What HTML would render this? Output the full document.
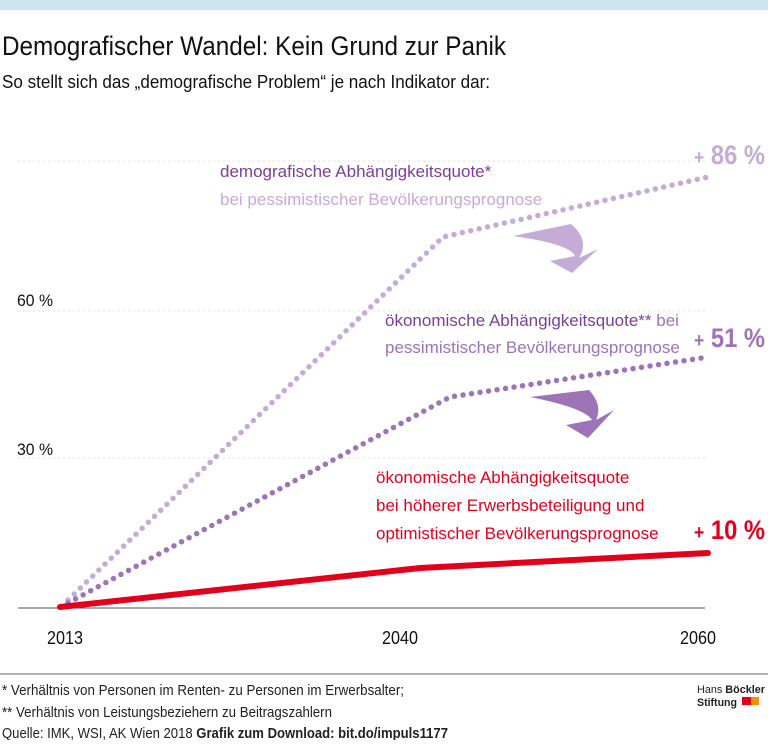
<!DOCTYPE html>
<html><head><meta charset="utf-8"><style>
body{margin:0;width:768px;height:740px;background:#fff;overflow:hidden}
svg text{font-family:"Liberation Sans Narrow","Liberation Sans",sans-serif}
</style></head><body>
<svg width="768" height="740" viewBox="0 0 768 740" xmlns="http://www.w3.org/2000/svg">
<rect x="0" y="0" width="768" height="10" fill="#cde3ee"/>
<text x="2" y="55" font-size="27" fill="#111" textLength="504" lengthAdjust="spacingAndGlyphs">Demografischer Wandel: Kein Grund zur Panik</text>
<text x="2" y="88" font-size="18" fill="#111" textLength="488" lengthAdjust="spacingAndGlyphs">So stellt sich das „demografische Problem“ je nach Indikator dar:</text>
<g stroke="#e6e2cc" stroke-width="1" stroke-dasharray="2,3">
<line x1="18" y1="161" x2="705" y2="161"/>
<line x1="18" y1="311" x2="705" y2="311"/>
<line x1="18" y1="458" x2="705" y2="458"/>
</g>
<line x1="18" y1="608" x2="705" y2="608" stroke="#555" stroke-width="1"/>
<text x="17" y="306" font-size="17" fill="#111" textLength="36" lengthAdjust="spacingAndGlyphs">60 %</text>
<text x="17" y="455" font-size="17" fill="#111" textLength="36" lengthAdjust="spacingAndGlyphs">30 %</text>
<text x="47" y="644" font-size="18" fill="#111" textLength="36" lengthAdjust="spacingAndGlyphs">2013</text>
<text x="382" y="644" font-size="18" fill="#111" textLength="36" lengthAdjust="spacingAndGlyphs">2040</text>
<text x="680" y="644" font-size="18" fill="#111" textLength="36" lengthAdjust="spacingAndGlyphs">2060</text>
<polyline points="68,600 443,237 708,177" fill="none" stroke="#c4acd6" stroke-width="5.5" stroke-linecap="round" stroke-dasharray="0,8.6"/>
<polyline points="68,603 450,397 708,357" fill="none" stroke="#9d74b6" stroke-width="5.5" stroke-linecap="round" stroke-dasharray="0,8.6"/>
<polyline points="60,607 420,568 708,553" fill="none" stroke="#e3001b" stroke-width="6" stroke-linecap="round"/>
<path d="M513,236 L571,224 Q590,240 579,258 L598,249 L572,273 L550,261 L575,256 Q570,244 513,236Z" fill="#c4acd6"/>
<path d="M530,397 L589,390 Q603,405 596,420 L614,410 L588,438 L566,425 L592,420 Q585,408 530,397Z" fill="#9d74b6"/>
<text x="220" y="177" font-size="17" fill="#7b3f98">demografische Abhängigkeitsquote*</text>
<text x="220" y="205" font-size="17" fill="#c4acd6">bei pessimistischer Bevölkerungsprognose</text>
<text x="385" y="326" font-size="17" fill="#7b3f98">ökonomische Abhängigkeitsquote** <tspan fill="#9d74b6">bei</tspan></text>
<text x="385" y="353" font-size="17" fill="#9d74b6">pessimistischer Bevölkerungsprognose</text>
<text x="376" y="483" font-size="17" fill="#e3001b">ökonomische Abhängigkeitsquote</text>
<text x="376" y="511" font-size="17" fill="#e3001b">bei höherer Erwerbsbeteiligung und</text>
<text x="376" y="539" font-size="17" fill="#e3001b">optimistischer Bevölkerungsprognose</text>
<text x="694" y="164" font-size="27" fill="#c4acd6" font-weight="bold" textLength="71" lengthAdjust="spacingAndGlyphs"><tspan font-size="20">+</tspan> 86 %</text>
<text x="694" y="347" font-size="27" fill="#9d74b6" font-weight="bold" textLength="71" lengthAdjust="spacingAndGlyphs"><tspan font-size="20">+</tspan> 51 %</text>
<text x="694" y="539" font-size="27" fill="#e3001b" font-weight="bold" textLength="71" lengthAdjust="spacingAndGlyphs"><tspan font-size="20">+</tspan> 10 %</text>
<line x1="0" y1="674" x2="768" y2="674" stroke="#666" stroke-width="1"/>
<text x="2" y="695" font-size="15" fill="#222" textLength="402" lengthAdjust="spacingAndGlyphs">* Verhältnis von Personen im Renten- zu Personen im Erwerbsalter;</text>
<text x="2" y="717" font-size="15" fill="#222" textLength="330" lengthAdjust="spacingAndGlyphs">** Verhältnis von Leistungsbeziehern  zu  Beitragszahlern</text>
<text x="2" y="738" font-size="15" fill="#222" textLength="446" lengthAdjust="spacingAndGlyphs">Quelle: IMK, WSI, AK Wien 2018  <tspan font-weight="bold">Grafik zum Download: bit.do/impuls1177</tspan></text>
<text x="697" y="693" font-size="11" fill="#222" textLength="68" lengthAdjust="spacingAndGlyphs">Hans <tspan font-weight="bold">Böckler</tspan></text>
<text x="697" y="706" font-size="11" fill="#222" font-weight="bold" textLength="40" lengthAdjust="spacingAndGlyphs">Stiftung</text>
<rect x="742" y="697" width="9" height="8" fill="#e3001b"/>
<rect x="751" y="697" width="8" height="8" fill="#f39200"/>
</svg>
</body></html>
